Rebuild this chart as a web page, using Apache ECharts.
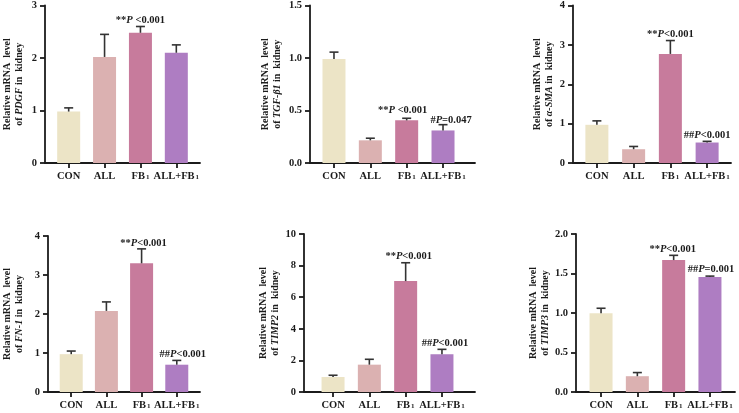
<!DOCTYPE html>
<html>
<head>
<meta charset="utf-8">
<script src="https://cdn.jsdelivr.net/npm/echarts@6/dist/echarts.min.js"></script>
<style>
  html, body { margin: 0; padding: 0; background: #fff; }
  #chart { width: 739px; height: 413px; }
</style>
</head>
<body>
<div id="chart"></div>
<script>
// groups and bar colours
const categories = ['CON', 'ALL', 'FB1', 'ALL+FB1'];
const barColors = ['#ece4c6', '#dbb1b1', '#c77b9c', '#ae7dc2'];

// means and upper error (SD)
const pdgfMean = [0.98, 2.02, 2.48, 2.10];
const pdgfSd = [0.07, 0.43, 0.12, 0.15];
const tgfMean = [0.99, 0.216, 0.406, 0.31];
const tgfSd = [0.066, 0.02, 0.02, 0.055];
const smaMean = [0.97, 0.35, 2.77, 0.52];
const smaSd = [0.10, 0.07, 0.34, 0.03];
const fnMean = [0.97, 2.08, 3.30, 0.70];
const fnSd = [0.08, 0.23, 0.37, 0.11];
const timp2Mean = [0.95, 1.73, 7.02, 2.39];
const timp2Sd = [0.11, 0.34, 1.16, 0.31];
const timp3Mean = [0.996, 0.20, 1.67, 1.457];
const timp3Sd = [0.064, 0.046, 0.06, 0.01];

const genes = ['PDGF', 'TGF-β1', 'α-SMA', 'FN-1', 'TIMP2', 'TIMP3'];
const yMax = [3, 1.5, 4, 4, 10, 2];
const yStep = [1, 0.5, 1, 1, 2, 0.5];
const yDecimals = [0, 1, 0, 0, 0, 1];

// significance notes: [group index, mark, relation, p value]
const pdgfNotes = [[2, '**', ' <', '0.001']];
const tgfNotes = [[2, '**', ' <', '0.001'], [3, '#', '=', '0.047']];
const smaNotes = [[2, '**', '<', '0.001'], [3, '##', '<', '0.001']];
const fnNotes = [[2, '**', '<', '0.001'], [3, '##', '<', '0.001']];
const timp2Notes = [[2, '**', '<', '0.001'], [3, '##', '<', '0.001']];
const timp3Notes = [[2, '**', '<', '0.001'], [3, '##', '=', '0.001']];

const means = [pdgfMean, tgfMean, smaMean, fnMean, timp2Mean, timp3Mean];
const sds = [pdgfSd, tgfSd, smaSd, fnSd, timp2Sd, timp3Sd];
const notes = [pdgfNotes, tgfNotes, smaNotes, fnNotes, timp2Notes, timp3Notes];

// layout (pixels)
const grids = [
    { left: 43, top: 5, width: 157, height: 158 },
    { left: 310, top: 5, width: 165, height: 158 },
    { left: 573, top: 5, width: 158, height: 158 },
    { left: 43, top: 236, width: 157, height: 156 },
    { left: 304, top: 234, width: 171, height: 158 },
    { left: 576, top: 234, width: 159, height: 158 }
];
const xRange = [[-0.66, 3.66], [-0.66, 3.88], [-0.65, 3.65], [-0.66, 3.66], [-0.8, 3.91], [-0.69, 3.69]];
const nameGaps = [20, 27, 18, 23, 21, 25];
const noteShift = [
    [[0, -6]],
    [[-4, -8], [8, -4]],
    [[0, -6], [0, -6]],
    [[2, -6], [6, -6]],
    [[3, -6], [3, -6]],
    [[-1, -6], [1, -7]]
];

const FONT = "'Liberation Serif', 'Times New Roman', serif";
const INK = '#1b1b1b';

const chart = echarts.init(document.getElementById('chart'));

function catLabel(name) {
    if (name.endsWith('1') && name.includes('FB')) {
        return '{b|' + name.slice(0, -1) + '}{sub|1}';
    }
    return '{b|' + name + '}';
}

const xAxes = [], yAxes = [], series = [];

grids.forEach((g, gi) => {
    xAxes.push({
        type: 'value',
        gridIndex: gi,
        min: xRange[gi][0],
        max: xRange[gi][1],
        splitLine: { show: false },
        axisLine: { show: true, onZero: false, lineStyle: { color: INK, width: 1.8 } },
        axisTick: { show: true, customValues: [0, 1, 2, 3], length: 5, lineStyle: { color: INK, width: 1.8 } },
        axisLabel: {
            customValues: [0, 1, 2, 3],
            margin: 8,
            formatter: v => catLabel(categories[Math.round(v)]),
            rich: {
                b: { fontFamily: FONT, fontWeight: 'bold', fontSize: 10.5, lineHeight: 12, color: INK, verticalAlign: 'top' },
                sub: { fontFamily: FONT, fontWeight: 'bold', fontSize: 7, lineHeight: 12, color: INK, verticalAlign: 'top', padding: [3, 0, 0, 1] }
            }
        }
    });
    yAxes.push({
        type: 'value',
        gridIndex: gi,
        min: 0,
        max: yMax[gi],
        interval: yStep[gi],
        splitLine: { show: false },
        axisLine: { show: true, onZero: false, lineStyle: { color: INK, width: 1.8 } },
        axisTick: { show: true, length: 5, lineStyle: { color: INK, width: 1.8 } },
        axisLabel: {
            margin: 8,
            fontFamily: FONT, fontWeight: 'bold', fontSize: 10.5, color: INK,
            formatter: v => v.toFixed(yDecimals[gi])
        },
        name: 'Relative mRNA  level\nof {i|' + genes[gi] + '} in  kidney',
        nameLocation: 'middle',
        nameGap: nameGaps[gi],
        nameTextStyle: {
            fontFamily: FONT, fontWeight: 'bold', fontSize: 10, lineHeight: 12, color: INK,
            rich: { i: { fontFamily: FONT, fontWeight: 'bold', fontStyle: 'italic', fontSize: 10, lineHeight: 12, color: INK } }
        }
    });

    const mean = means[gi], sd = sds[gi];

    series.push({
        type: 'bar',
        xAxisIndex: gi,
        yAxisIndex: gi,
        barWidth: 23,
        z: 2,
        data: mean.map((m, i) => ({ value: [i, m], itemStyle: { color: barColors[i] } }))
    });

    series.push({
        type: 'custom',
        xAxisIndex: gi,
        yAxisIndex: gi,
        z: 3,
        data: mean.map((m, i) => [i, m, m + sd[i]]),
        renderItem: (params, api) => {
            const base = api.coord([api.value(0), api.value(1)]);
            const top = api.coord([api.value(0), api.value(2)]);
            const st = { stroke: '#333333', lineWidth: 1.6 };
            return {
                type: 'group',
                children: [
                    { type: 'line', shape: { x1: base[0], y1: base[1], x2: top[0], y2: top[1] }, style: st },
                    { type: 'line', shape: { x1: top[0] - 4.5, y1: top[1], x2: top[0] + 4.5, y2: top[1] }, style: st }
                ]
            };
        }
    });

    const nt = notes[gi];
    series.push({
        type: 'custom',
        xAxisIndex: gi,
        yAxisIndex: gi,
        z: 4,
        data: nt.map(n => [n[0], mean[n[0]] + sd[n[0]]]),
        renderItem: (params, api) => {
            const p = api.coord([api.value(0), api.value(1)]);
            const n = nt[params.dataIndex];
            const sh = noteShift[gi][params.dataIndex];
            return {
                type: 'text',
                x: p[0] + sh[0],
                y: p[1] + sh[1],
                style: {
                    text: '{m|' + n[1] + '}{p|P}{m|' + n[2] + n[3] + '}',
                    align: 'center',
                    verticalAlign: 'middle',
                    rich: {
                        m: { fontFamily: FONT, fontWeight: 'bold', fontSize: 10.5, fill: INK },
                        p: { fontFamily: FONT, fontWeight: 'bold', fontStyle: 'italic', fontSize: 10.5, fill: INK }
                    }
                }
            };
        }
    });
});

chart.setOption({
    backgroundColor: '#ffffff',
    animation: false,
    grid: grids,
    xAxis: xAxes,
    yAxis: yAxes,
    series: series
});
</script>
</body>
</html>
